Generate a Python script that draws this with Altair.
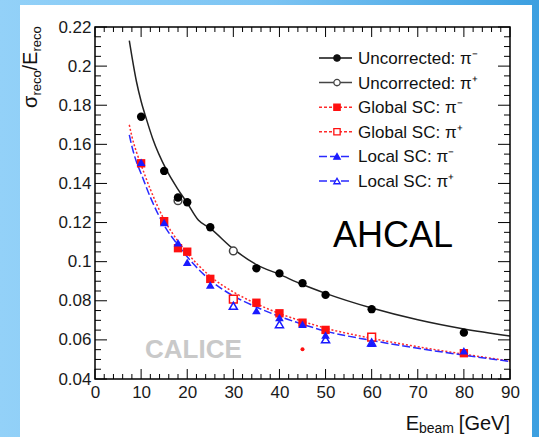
import altair as alt
import pandas as pd

FONT = "Liberation Sans"

# ---------------- data ----------------
unc_m_E = [10, 15, 18, 20, 25, 35, 40, 45, 50, 60, 80]
unc_m_s = [0.1741, 0.1464, 0.1328, 0.1304, 0.1176, 0.0966, 0.0940, 0.0890, 0.0830, 0.0757, 0.0637]
unc_p_E = [18, 30]
unc_p_s = [0.1312, 0.1055]

glob_m_E = [10, 15, 18, 20, 25, 35, 40, 45, 50, 80]
glob_m_s = [0.1503, 0.1207, 0.1069, 0.1051, 0.0912, 0.0790, 0.0736, 0.0688, 0.0651, 0.0532]
glob_p_E = [30, 60]
glob_p_s = [0.0809, 0.0614]

loc_m_E = [10, 15, 18, 20, 25, 35, 40, 45, 50, 60, 80]
loc_m_s = [0.1509, 0.1200, 0.1097, 0.0997, 0.0881, 0.0750, 0.0714, 0.0680, 0.0625, 0.0583, 0.0545]
loc_p_E = [30, 40, 50, 60]
loc_p_s = [0.0774, 0.0680, 0.0603, 0.0587]

stray_E = [45]
stray_s = [0.0552]

fit_unc_E = [7.44, 8, 9, 10, 11.2, 12.5, 15.5, 18, 20, 22.4, 25, 30, 35, 40, 45, 50, 60, 70, 80, 90]
fit_unc_s = [0.213, 0.205, 0.192, 0.182, 0.1725, 0.163, 0.1469, 0.137, 0.130, 0.1213, 0.117, 0.1065,
             0.0985, 0.0935, 0.0883, 0.0838, 0.0763, 0.0703, 0.0656, 0.062]
fit_E = [7.44, 8, 9, 10, 12, 15, 18, 20, 25, 30, 35, 40, 45, 50, 60, 70, 80, 90]
fit_glob_s = [0.170, 0.164, 0.156, 0.1495, 0.137, 0.1215, 0.1105, 0.1045, 0.0925, 0.0845, 0.0785,
              0.0735, 0.0695, 0.066, 0.0608, 0.0565, 0.0527, 0.0492]
fit_loc_s = [0.1648, 0.159, 0.151, 0.145, 0.133, 0.1185, 0.1085, 0.1025, 0.0905, 0.0825, 0.0768,
             0.072, 0.068, 0.0645, 0.0597, 0.0557, 0.0522, 0.049]

x_major = [0, 10, 20, 30, 40, 50, 60, 70, 80, 90]
x_minor = [v for v in range(2, 90, 2) if v % 10 != 0]
y_major = [0.04, 0.06, 0.08, 0.1, 0.12, 0.14, 0.16, 0.18, 0.2, 0.22]
y_minor = [round(0.04 + 0.005 * i, 3) for i in range(1, 36) if i % 4 != 0]

legend_labels = ["Uncorrected: π\u207b", "Uncorrected: π\u207a", "Global SC: π\u207b",
                 "Global SC: π\u207a", "Local SC: π\u207b", "Local SC: π\u207a"]

# ---------------- layout ----------------
W, H = 415, 352
PL, PT = 95, 27
TW, TH = 539, 437

xs = alt.Scale(domain=[0, 90], nice=False, zero=False)
ys = alt.Scale(domain=[0.04, 0.22], nice=False, zero=False)
xaxis = alt.Axis(values=x_major, title=None, ticks=False, domain=False, grid=False,
                 labelFlush=False, labelFontSize=17, labelPadding=5, labelFont=FONT,
                 labelColor="#1a1a1a", zindex=1, format="d")
yaxis = alt.Axis(values=y_major, title=None, ticks=False, domain=False, grid=False,
                 labelFontSize=17, labelPadding=4, labelFont=FONT, labelColor="#1a1a1a",
                 zindex=1, format="~g")
X = alt.X("E:Q", scale=xs, axis=xaxis)
Y = alt.Y("s:Q", scale=ys, axis=yaxis)

def df(E, s):
    return pd.DataFrame({"E": E, "s": s})

one = alt.Data(values=[{}])

layers = []

# background
layers.append(alt.Chart(one).mark_rect(
    color=alt.Gradient(gradient="linear", x1=0, x2=1, y1=0, y2=0,
                       stops=[alt.GradientStop(color="#93d1f8", offset=0),
                              alt.GradientStop(color="#7cc4f3", offset=0.5),
                              alt.GradientStop(color="#3c9fe0", offset=1)])
).encode(x=alt.value(-PL), x2=alt.value(TW - PL), y=alt.value(-PT), y2=alt.value(TH - PT)))
layers.append(alt.Chart(one).mark_rect(color="white").encode(
    x=alt.value(20 - PL), x2=alt.value(532 - PL), y=alt.value(5 - PT), y2=alt.value(TH - PT)))

# fit curves
layers.append(alt.Chart(df(fit_unc_E, fit_unc_s)).mark_line(
    color="#222", strokeWidth=1.5, interpolate="monotone").encode(x=X, y=Y))
layers.append(alt.Chart(df(fit_E, fit_glob_s)).mark_line(
    color="#ff2a2a", strokeWidth=1.5, strokeDash=[2, 2], interpolate="monotone").encode(x=X, y=Y))
layers.append(alt.Chart(df(fit_E, fit_loc_s)).mark_line(
    color="#2a2aff", strokeWidth=1.5, strokeDash=[8, 3], interpolate="monotone").encode(x=X, y=Y))

# points
layers.append(alt.Chart(df(unc_p_E, unc_p_s)).mark_point(
    shape="circle", filled=True, fill="white", stroke="#444", strokeWidth=1.5, size=60, opacity=1
).encode(x=X, y=Y))
layers.append(alt.Chart(df(unc_m_E, unc_m_s)).mark_point(
    shape="circle", filled=True, color="black", size=70, opacity=1).encode(x=X, y=Y))
layers.append(alt.Chart(df(glob_p_E, glob_p_s)).mark_point(
    shape="square", filled=True, fill="white", stroke="#ff1010", strokeWidth=1.5, size=60, opacity=1
).encode(x=X, y=Y))
layers.append(alt.Chart(df(glob_m_E, glob_m_s)).mark_point(
    shape="square", filled=True, color="#ff1010", size=70, opacity=1).encode(x=X, y=Y))
layers.append(alt.Chart(df(loc_p_E, loc_p_s)).mark_point(
    shape="triangle-up", filled=True, fill="white", stroke="#1a1aff", strokeWidth=1.5, size=65,
    opacity=1).encode(x=X, y=Y))
layers.append(alt.Chart(df(loc_m_E, loc_m_s)).mark_point(
    shape="triangle-up", filled=True, color="#1a1aff", size=75, opacity=1).encode(x=X, y=Y))
layers.append(alt.Chart(df(stray_E, stray_s)).mark_point(
    shape="circle", filled=True, color="#ff1010", size=16, opacity=1).encode(x=X, y=Y))

# ticks (inside, ROOT style)
xmaj = pd.DataFrame({"E": x_major})
xmin = pd.DataFrame({"E": x_minor})
ymaj = pd.DataFrame({"s": y_major})
ymin = pd.DataFrame({"s": y_minor})
rule = dict(color="black", strokeWidth=1)
layers += [
    alt.Chart(xmaj).mark_rule(**rule).encode(x=X, y=alt.value(H), y2=alt.value(H - 10)),
    alt.Chart(xmin).mark_rule(**rule).encode(x=X, y=alt.value(H), y2=alt.value(H - 5)),
    alt.Chart(xmaj).mark_rule(**rule).encode(x=X, y=alt.value(0), y2=alt.value(10)),
    alt.Chart(xmin).mark_rule(**rule).encode(x=X, y=alt.value(0), y2=alt.value(5)),
    alt.Chart(ymaj).mark_rule(**rule).encode(y=Y, x=alt.value(0), x2=alt.value(12)),
    alt.Chart(ymin).mark_rule(**rule).encode(y=Y, x=alt.value(0), x2=alt.value(6)),
    alt.Chart(ymaj).mark_rule(**rule).encode(y=Y, x=alt.value(W), x2=alt.value(W - 12)),
    alt.Chart(ymin).mark_rule(**rule).encode(y=Y, x=alt.value(W), x2=alt.value(W - 6)),
]

# frame
layers.append(alt.Chart(one).mark_rect(filled=False, stroke="black", strokeWidth=1.5).encode(
    x=alt.value(0), x2=alt.value(W), y=alt.value(0), y2=alt.value(H)))

# annotations
def txt(t, x, y, size, color="#111", align="left", angle=0, weight="normal", baseline="alphabetic"):
    kw = dict(text=t, font=FONT, fontSize=size, color=color, align=align,
              baseline=baseline, fontWeight=weight)
    if angle:
        kw["angle"] = angle
    return alt.Chart(one).mark_text(**kw).encode(x=alt.value(x), y=alt.value(y))

layers.append(txt("AHCAL", 238, 220, 36, color="black"))
layers.append(txt("CALICE", 50, 331, 26, color="#c9c9c9", weight="bold"))

# y title: sigma_reco / E_reco (rotated)
layers.append(txt("σ", -58, 81, 20, angle=270))
layers.append(txt("reco", -54, 68.5, 13, angle=270))
layers.append(txt("/E", -58, 43.5, 20, angle=270))
layers.append(txt("reco", -54, 24.5, 13, angle=270))

# x title: E_beam [GeV]
layers.append(txt("[GeV]", W, 403, 20, align="right"))
layers.append(txt("beam", W - 56, 406, 14, align="right"))
layers.append(txt("E", W - 91, 403, 20, align="right"))

# legend
leg_y0, leg_dy = 31, 24.6
leg_styles = [
    dict(line="#111", dash=None, shape="circle", fill="#111", stroke="#111"),
    dict(line="#444", dash=None, shape="circle", fill="white", stroke="#444"),
    dict(line="#ff2a2a", dash=[3, 2], shape="square", fill="#ff1010", stroke="#ff1010"),
    dict(line="#ff2a2a", dash=[3, 2], shape="square", fill="white", stroke="#ff1010"),
    dict(line="#2a2aff", dash=[8, 3], shape="triangle-up", fill="#1a1aff", stroke="#1a1aff"),
    dict(line="#2a2aff", dash=[8, 3], shape="triangle-up", fill="white", stroke="#1a1aff"),
]
for i, (lab, st) in enumerate(zip(legend_labels, leg_styles)):
    yy = leg_y0 + leg_dy * i
    lk = dict(color=st["line"], strokeWidth=1.5)
    if st["dash"]:
        lk["strokeDash"] = st["dash"]
    layers.append(alt.Chart(one).mark_rule(**lk).encode(
        x=alt.value(224), x2=alt.value(257), y=alt.value(yy)))
    layers.append(alt.Chart(one).mark_point(
        shape=st["shape"], filled=True, fill=st["fill"], stroke=st["stroke"], strokeWidth=1.3,
        size=40, opacity=1).encode(x=alt.value(242), y=alt.value(yy)))
    layers.append(txt(lab, 263, yy + 1, 17, baseline="middle"))

chart = alt.layer(*layers).properties(
    width=W, height=H,
    autosize=alt.AutoSizeParams(type="none"),
    padding={"left": PL, "top": PT, "right": TW - PL - W, "bottom": TH - PT - H},
    background="#8fcff7",
).configure_view(stroke=None)

chart.save("out.html", embed_options={"renderer": "svg", "actions": False})
